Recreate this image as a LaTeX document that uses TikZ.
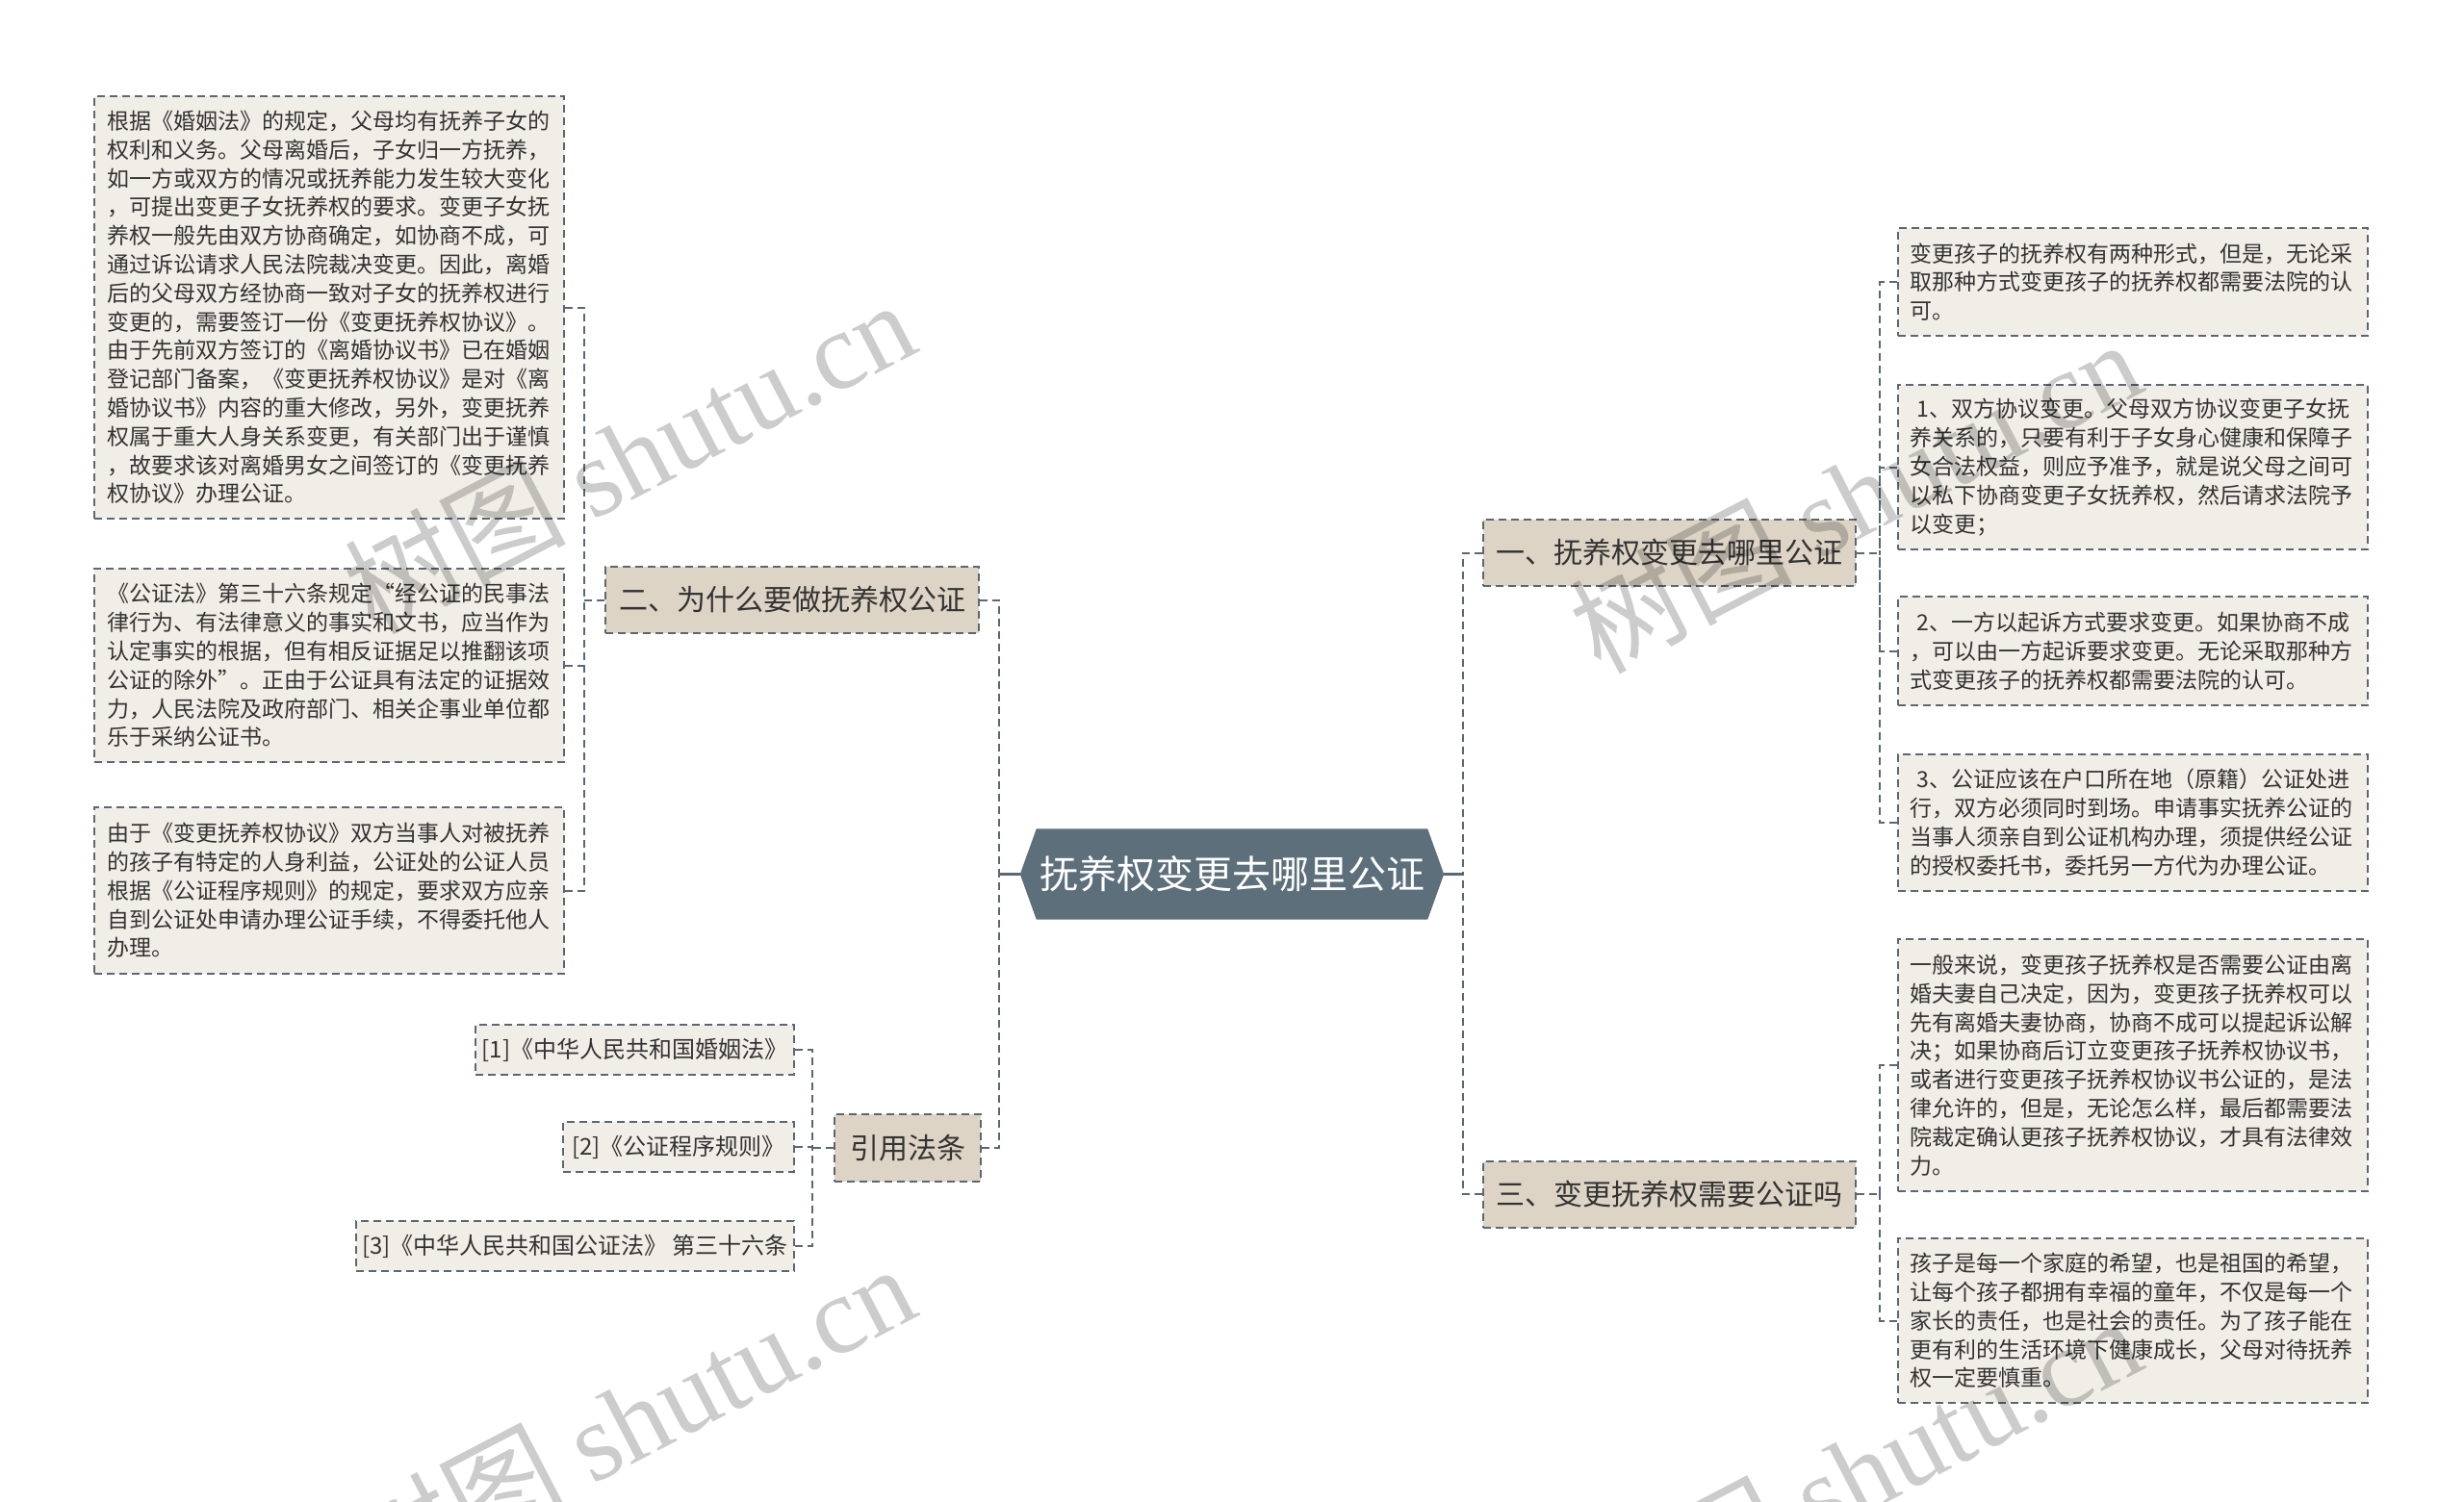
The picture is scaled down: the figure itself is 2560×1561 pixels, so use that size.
\documentclass[tikz,border=0pt]{standalone}
\usepackage{fontspec}
\setmainfont{Noto Sans CJK SC}
\newfontfamily\cjk{Noto Sans CJK SC}
\newfontfamily\wmserif{Liberation Serif}
\usetikzlibrary{backgrounds}
\definecolor{leafc}{HTML}{F1EEE7}
\definecolor{branchc}{HTML}{DDD4C6}
\definecolor{linec}{HTML}{5B6871}
\definecolor{rootc}{HTML}{5D6F7B}
\definecolor{textc}{HTML}{333333}
\tikzset{
  box/.style={draw=linec, line width=2pt, dash pattern=on 8pt off 5pt, inner sep=0pt, text=textc},
  leaf/.style={box, fill=leafc, minimum width=488pt, text width=462pt, align=left,
    font=\cjk\fontsize{23}{29.8}\selectfont},
  cite/.style={box, fill=leafc, minimum height=52pt, anchor=east,
    font=\cjk\fontsize{24}{30}\selectfont},
  branch/.style={box, fill=branchc, minimum height=69pt, font=\cjk\fontsize{30}{36}\selectfont},
  rootnode/.style={inner sep=0pt, text=white, minimum width=440pt, minimum height=94pt,
    font=\cjk\fontsize{40}{46}\selectfont},
  conn/.style={draw=linec, line width=2pt, dash pattern=on 8pt off 5pt},
  rootconn/.style={draw=linec, line width=3pt},
  wm/.style={text=black, opacity=0.2, inner sep=0pt, font=\fontsize{115}{120}\selectfont}
}
\begin{document}
\begin{tikzpicture}[x=1pt,y=-1pt]
\useasboundingbox (0,0) rectangle (2560,1561);

% root
\node[rootnode] (root) at (1280,908.5) {抚养权变更去哪里公证};
\begin{scope}[on background layer]
\fill[white] (0,0) rectangle (2560,1561);
\fill[rootc] (root.west) -- ([xshift=17pt]root.north west) -- ([xshift=-17pt]root.north east)
  -- (root.east) -- ([xshift=-17pt]root.south east) -- ([xshift=17pt]root.south west) -- cycle;
\end{scope}

% branches
\node[branch, minimum width=387pt] (b1) at (1734.5,574.5) {一、抚养权变更去哪里公证};
\node[branch, minimum width=387pt] (b3) at (1734.5,1241) {三、变更抚养权需要公证吗};
\node[branch, minimum width=388pt] (b2) at (823,623.5) {二、为什么要做抚养权公证};
\node[branch, minimum width=152pt, minimum height=70pt] (b4) at (943,1193) {引用法条};

% left leaves
\node[leaf, minimum height=439pt] (l1) at (342,319.5) {根据《婚姻法》的规定，父母均有抚养子女的\\
权利和义务。父母离婚后，子女归一方抚养，\\
如一方或双方的情况或抚养能力发生较大变化\\
，可提出变更子女抚养权的要求。变更子女抚\\
养权一般先由双方协商确定，如协商不成，可\\
通过诉讼请求人民法院裁决变更。因此，离婚\\
后的父母双方经协商一致对子女的抚养权进行\\
变更的，需要签订一份《变更抚养权协议》。\\
由于先前双方签订的《离婚协议书》已在婚姻\\
登记部门备案，《变更抚养权协议》是对《离\\
婚协议书》内容的重大修改，另外，变更抚养\\
权属于重大人身关系变更，有关部门出于谨慎\\
，故要求该对离婚男女之间签订的《变更抚养\\
权协议》办理公证。};
\node[leaf, minimum height=201pt] (l2) at (342,691.5) {《公证法》第三十六条规定“经公证的民事法\\
律行为、有法律意义的事实和文书，应当作为\\
认定事实的根据，但有相反证据足以推翻该项\\
公证的除外”。正由于公证具有法定的证据效\\
力，人民法院及政府部门、相关企事业单位都\\
乐于采纳公证书。};
\node[leaf, minimum height=173pt] (l3) at (342,925.5) {由于《变更抚养权协议》双方当事人对被抚养\\
的孩子有特定的人身利益，公证处的公证人员\\
根据《公证程序规则》的规定，要求双方应亲\\
自到公证处申请办理公证手续，不得委托他人\\
办理。};

% citations
\node[cite, minimum width=331pt] (c1) at (826,1091) {[1]《中华人民共和国婚姻法》};
\node[cite, minimum width=240pt] (c2) at (826,1192) {[2]《公证程序规则》};
\node[cite, minimum width=455pt] (c3) at (826,1295) {[3]《中华人民共和国公证法》 第三十六条};

% right leaves
\node[leaf, minimum height=112pt] (r1) at (2215.5,293) {变更孩子的抚养权有两种形式，但是，无论采\\
取那种方式变更孩子的抚养权都需要法院的认\\
可。};
\node[leaf, minimum height=171pt] (r2) at (2215.5,485.5) {\hspace*{0.3em}1、双方协议变更。父母双方协议变更子女抚\\
养关系的，只要有利于子女身心健康和保障子\\
女合法权益，则应予准予，就是说父母之间可\\
以私下协商变更子女抚养权，然后请求法院予\\
以变更；};
\node[leaf, minimum height=113pt] (r3) at (2215.5,676.5) {\hspace*{0.3em}2、一方以起诉方式要求变更。如果协商不成\\
，可以由一方起诉要求变更。无论采取那种方\\
式变更孩子的抚养权都需要法院的认可。};
\node[leaf, minimum height=142pt] (r4) at (2215.5,855) {\hspace*{0.3em}3、公证应该在户口所在地（原籍）公证处进\\
行，双方必须同时到场。申请事实抚养公证的\\
当事人须亲自到公证机构办理，须提供经公证\\
的授权委托书，委托另一方代为办理公证。};
\node[leaf, minimum height=262pt] (r5) at (2215.5,1107) {一般来说，变更孩子抚养权是否需要公证由离\\
婚夫妻自己决定，因为，变更孩子抚养权可以\\
先有离婚夫妻协商，协商不成可以提起诉讼解\\
决；如果协商后订立变更孩子抚养权协议书，\\
或者进行变更孩子抚养权协议书公证的，是法\\
律允许的，但是，无论怎么样，最后都需要法\\
院裁定确认更孩子抚养权协议，才具有法律效\\
力。};
\node[leaf, minimum height=171pt] (r6) at (2215.5,1372.5) {孩子是每一个家庭的希望，也是祖国的希望，\\
让每个孩子都拥有幸福的童年，不仅是每一个\\
家长的责任，也是社会的责任。为了孩子能在\\
更有利的生活环境下健康成长，父母对待抚养\\
权一定要慎重。};

% junction coordinates
\coordinate (jL) at (1038,908.5);
\coordinate (jR) at (1520,908.5);
\coordinate (j1) at (1953,574.5);
\coordinate (j3) at (1953,1241);
\coordinate (j2) at (607,623.5);
\coordinate (j4) at (844,1193);

% connectors
\draw[rootconn] (root.west) -- (jL);
\draw[rootconn] (root.east) -- (jR);
\draw[conn] (b2.east) -| (jL);
\draw[conn] (b4.east) -| (jL);
\draw[conn] (b1.west) -| (jR);
\draw[conn] (b3.west) -| (jR);

\draw[conn] (b1.east) -- (j1);
\foreach \n in {r1,r2,r3,r4} \draw[conn] (\n.west) -| (j1);
\draw[conn] (b3.east) -- (j3);
\foreach \n in {r5,r6} \draw[conn] (\n.west) -| (j3);
\draw[conn] (b2.west) -- (j2);
\foreach \n in {l1,l2,l3} \draw[conn] (\n.east) -| (j2);
\draw[conn] (b4.west) -- (j4);
\foreach \n in {c1,c2,c3} \draw[conn] (\n.east) -| (j4);

% watermarks
\node[wm, rotate=27.5] (wm1) at (653,473) {{\cjk 树图} {\wmserif shutu.cn}};
\node[wm, rotate=27.5] (wm2) at (1927,514) {{\cjk 树图} {\wmserif shutu.cn}};
\node[wm, rotate=27.5] (wm3) at (653,1475) {{\cjk 树图} {\wmserif shutu.cn}};
\node[wm, rotate=27.5] (wm4) at (1927,1530) {{\cjk 树图} {\wmserif shutu.cn}};
\end{tikzpicture}
\end{document}
